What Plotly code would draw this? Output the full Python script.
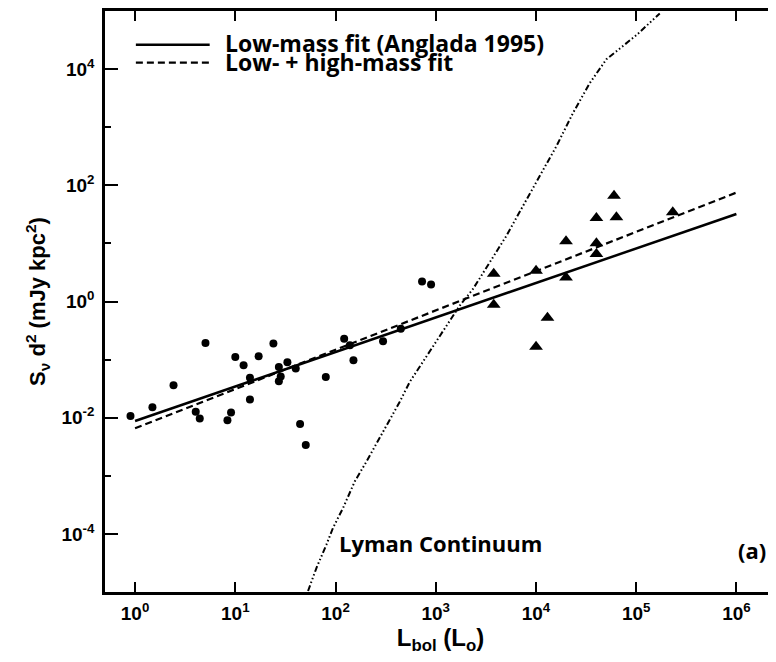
import plotly.graph_objects as go

# ---- data ----
lowmass_L = [0.90, 1.49, 2.42, 5.04, 4.03, 4.42, 8.35, 9.07, 10.0, 12.1, 14.0, 14.0,
             17.1, 24.0, 27.2, 28.4, 27.2, 33.1, 40.1, 44.3, 50.5, 80.0, 122, 139,
             151, 298, 448, 730, 898]
lowmass_S = [0.0107, 0.0152, 0.0363, 0.193, 0.0127, 0.00973, 0.0090, 0.0123, 0.111,
             0.080, 0.0485, 0.0206, 0.114, 0.19, 0.0748, 0.0514, 0.0422, 0.090, 0.070,
             0.0078, 0.0034, 0.0504, 0.229, 0.176, 0.0975, 0.206, 0.339, 2.20, 1.96]

highmass_L = [60100, 40100, 63500, 231700, 19950, 40100, 40100, 3790, 10020, 19950,
              3790, 13030, 10020]
highmass_S = [65.8, 27.3, 28.1, 34.2, 10.9, 10.07, 6.59, 2.99, 3.37, 2.59, 0.881,
              0.527, 0.166]

fit_L = [1, 1e6]
lowmass_fit_S = [0.00877, 32.1]
combined_fit_S = [0.00656, 75.0]

lyman_L = [53.2, 64.6, 81.3, 94.4, 118.9, 155.6, 203.7, 297.9, 437.5, 550.8, 1435,
           1738, 2355, 3459, 5070, 7430, 10900, 16000, 23400, 34400, 50500, 100700,
           171800]
lyman_S = [1.04e-5, 2.61e-5, 6.59e-5, 1.27e-4, 2.79e-4, 8.0e-4, 1.76e-3, 5.75e-3,
           0.0188, 0.0414, 0.504, 0.853, 1.644, 4.72, 13.5, 44.2, 144, 472, 1754,
           5730, 14800, 38500, 90800]

x_tickvals = [1, 10, 100, 1e3, 1e4, 1e5, 1e6]
x_ticktext = ["10<sup>0</sup>", "10<sup>1</sup>", "10<sup>2</sup>", "10<sup>3</sup>",
              "10<sup>4</sup>", "10<sup>5</sup>", "10<sup>6</sup>"]
y_tickvals = [1e-4, 1e-2, 1, 1e2, 1e4]
y_ticktext = ["10<sup>-4</sup>", "10<sup>-2</sup>", "10<sup>0</sup>", "10<sup>2</sup>",
              "10<sup>4</sup>"]
y_minorvals = [1e-5, 1e-3, 1e-1, 1e1, 1e3, 1e5]

legend_labels = ["Low-mass fit (Anglada 1995)", "Low- + high-mass fit"]

TICKFONT = dict(family="Liberation Sans", size=19, color="black", weight="bold")
TXTFONT = dict(family="Open Sans", size=22, color="black", weight="bold")
LEGFONT = dict(family="Open Sans", size=23, color="black", weight="bold")

fig = go.Figure()
fig.add_trace(go.Scatter(x=fit_L, y=lowmass_fit_S, mode="lines",
                         line=dict(color="black", width=2.5), showlegend=False))
fig.add_trace(go.Scatter(x=fit_L, y=combined_fit_S, mode="lines",
                         line=dict(color="black", width=2.2, dash="7px,4px"),
                         showlegend=False))
fig.add_trace(go.Scatter(x=lyman_L, y=lyman_S, mode="lines",
                         line=dict(color="black", width=2,
                                   dash="6px,2.5px,1.5px,2.5px,1.5px,2.5px,1.5px,2.5px"),
                         showlegend=False))
fig.add_trace(go.Scatter(x=lowmass_L, y=lowmass_S, mode="markers",
                         marker=dict(symbol="circle", size=8, color="black"),
                         showlegend=False))
fig.add_trace(go.Scatter(x=highmass_L, y=highmass_S, mode="markers",
                         marker=dict(symbol="triangle-up", size=12, color="black"),
                         showlegend=False))

# legend drawn manually
fig.add_shape(type="line", xref="paper", yref="paper", x0=0.046, x1=0.156,
              y0=0.942, y1=0.942, line=dict(color="black", width=2.5))
fig.add_shape(type="line", xref="paper", yref="paper", x0=0.046, x1=0.156,
              y0=0.911, y1=0.911, line=dict(color="black", width=2.2, dash="7px,4px"))
fig.add_annotation(xref="paper", yref="paper", x=0.176, y=0.945, text=legend_labels[0],
                   showarrow=False, xanchor="left", yanchor="middle", font=LEGFONT)
fig.add_annotation(xref="paper", yref="paper", x=0.176, y=0.913, text=legend_labels[1],
                   showarrow=False, xanchor="left", yanchor="middle", font=LEGFONT)
fig.add_annotation(xref="paper", yref="paper", x=0.346, y=0.084, text="Lyman Continuum",
                   showarrow=False, xanchor="left", yanchor="middle", font=TXTFONT)
fig.add_annotation(xref="paper", yref="paper", x=0.988, y=0.072, text="(a)",
                   showarrow=False, xanchor="right", yanchor="middle", font=TXTFONT)

fig.update_xaxes(type="log", range=[-0.3, 6.395], showline=True, linewidth=2.5,
                 linecolor="black", mirror="ticks", ticks="inside", ticklen=10,
                 tickwidth=2, tickcolor="black", tickvals=x_tickvals,
                 ticktext=x_ticktext, tickfont=TICKFONT, showgrid=False,
                 zeroline=False, ticklabelstandoff=2,
                 title=dict(text="L<sub>bol</sub> (L<sub>o</sub>)", standoff=4,
                            font=dict(family="Liberation Sans", size=24,
                                      color="black", weight="bold")))
fig.update_yaxes(type="log", range=[-5, 5], showline=True, linewidth=2.5,
                 linecolor="black", mirror=False, ticks="inside", ticklen=13,
                 tickwidth=2, tickcolor="black", tickvals=y_tickvals,
                 ticktext=y_ticktext, tickfont=TICKFONT, showgrid=False,
                 zeroline=False, ticklabelstandoff=4,
                 minor=dict(tickvals=y_minorvals, ticks="inside", ticklen=6,
                            tickwidth=2, tickcolor="black", showgrid=False),
                 title=dict(text="S<sub>ν</sub> d<sup>2</sup> (mJy kpc<sup>2</sup>)",
                            standoff=10,
                            font=dict(family="Liberation Sans", size=22,
                                      color="black", weight="bold")))

fig.update_layout(width=776, height=662, margin=dict(l=97, r=8, t=0, b=78),
                  plot_bgcolor="white", paper_bgcolor="white", showlegend=False)

fig.write_html("out.html")
